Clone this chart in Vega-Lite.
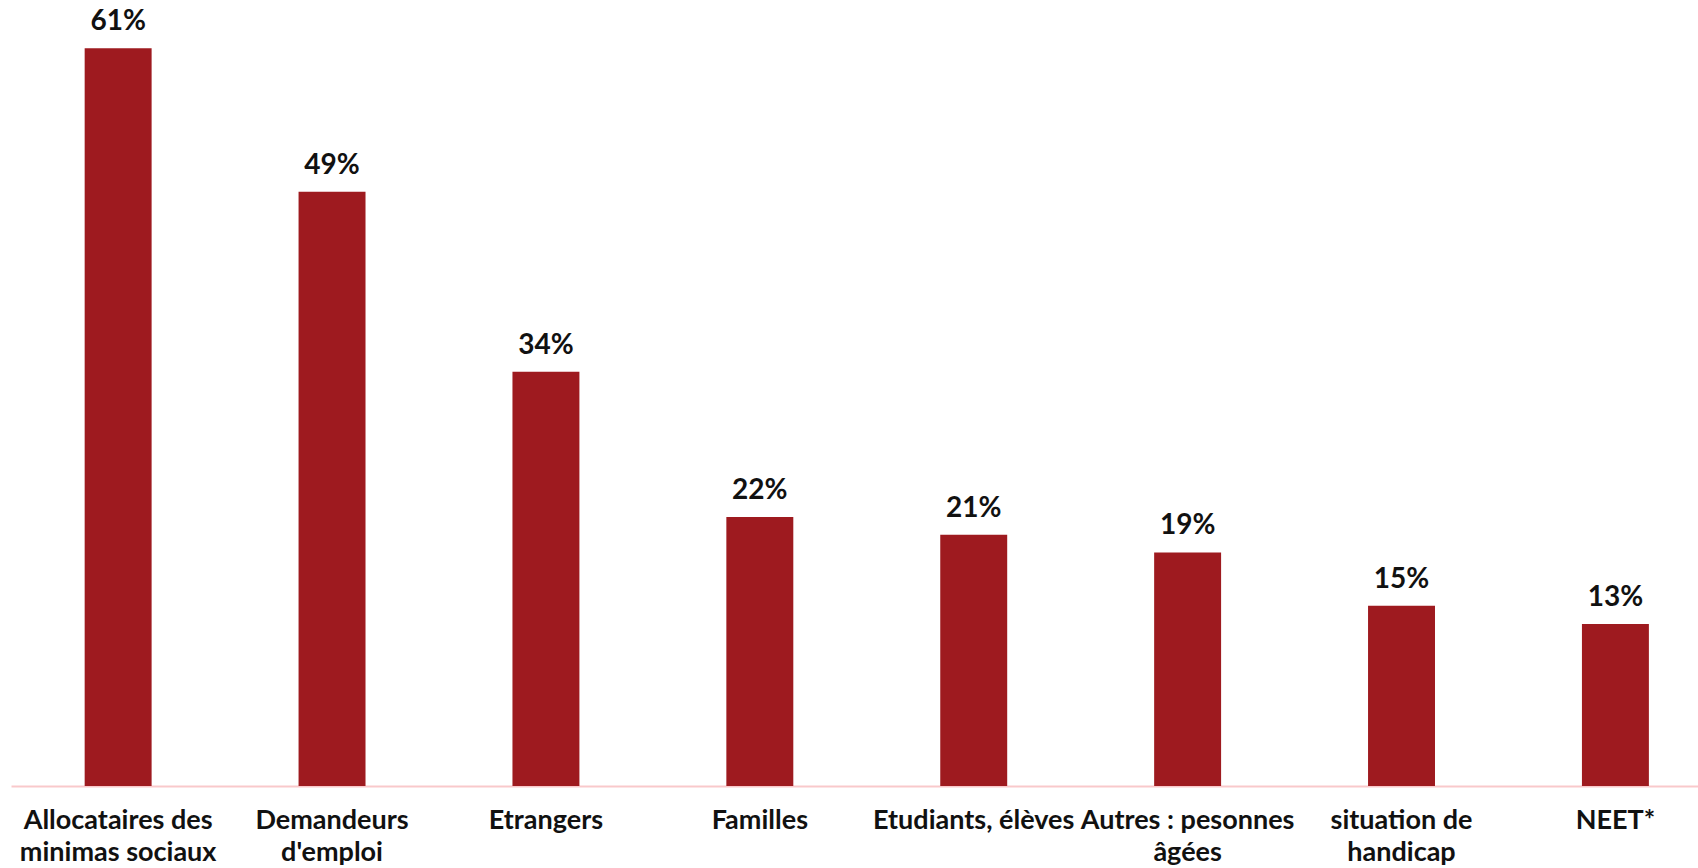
{
  "$schema": "https://vega.github.io/schema/vega-lite/v6.json",
  "autosize": {"type": "none"},
  "padding": {"left": 11, "top": 0, "right": 0, "bottom": 82},
  "width": 1687,
  "height": 786,
  "background": "white",
  "data": {
    "values": [
      {"categorie": "Allocataires des|minimas sociaux", "part": 0.610},
      {"categorie": "Demandeurs|d'emploi", "part": 0.4915},
      {"categorie": "Etrangers", "part": 0.3425},
      {"categorie": "Familles", "part": 0.2224},
      {"categorie": "Etudiants, élèves", "part": 0.2078},
      {"categorie": "Autres : pesonnes|âgées", "part": 0.1931},
      {"categorie": "situation de|handicap", "part": 0.149},
      {"categorie": "NEET*", "part": 0.1339}
    ]
  },
  "config": {
    "view": {"stroke": null},
    "font": "Lato"
  },
  "encoding": {
    "x": {
      "field": "categorie",
      "type": "nominal",
      "sort": null,
      "scale": {"paddingInner": 0.687, "paddingOuter": 0.287, "align": 0.6},
      "axis": {
        "title": null,
        "labelAngle": 0,
        "ticks": false,
        "domainColor": "#F9C9CB",
        "domainWidth": 2,
        "labelFont": "Lato",
        "labelFontSize": 27,
        "labelFontWeight": "bold",
        "labelColor": "#111111",
        "labelPadding": 21,
        "labelLineHeight": 32,
        "labelBaseline": "top",
        "labelExpr": "split(datum.label, '|')",
        "labelOverlap": false,
        "labelLimit": 400
      }
    },
    "y": {
      "field": "part",
      "type": "quantitative",
      "scale": {"domain": [0, 0.65], "nice": false, "zero": true},
      "axis": null
    }
  },
  "layer": [
    {
      "mark": {"type": "bar", "color": "#9E1A1F"}
    },
    {
      "mark": {"type": "text", "dy": -18, "baseline": "alphabetic", "font": "Lato", "fontSize": 28, "fontWeight": "bold", "color": "#111111"},
      "encoding": {
        "text": {"field": "part", "type": "quantitative", "format": ".0%"}
      }
    }
  ]
}
